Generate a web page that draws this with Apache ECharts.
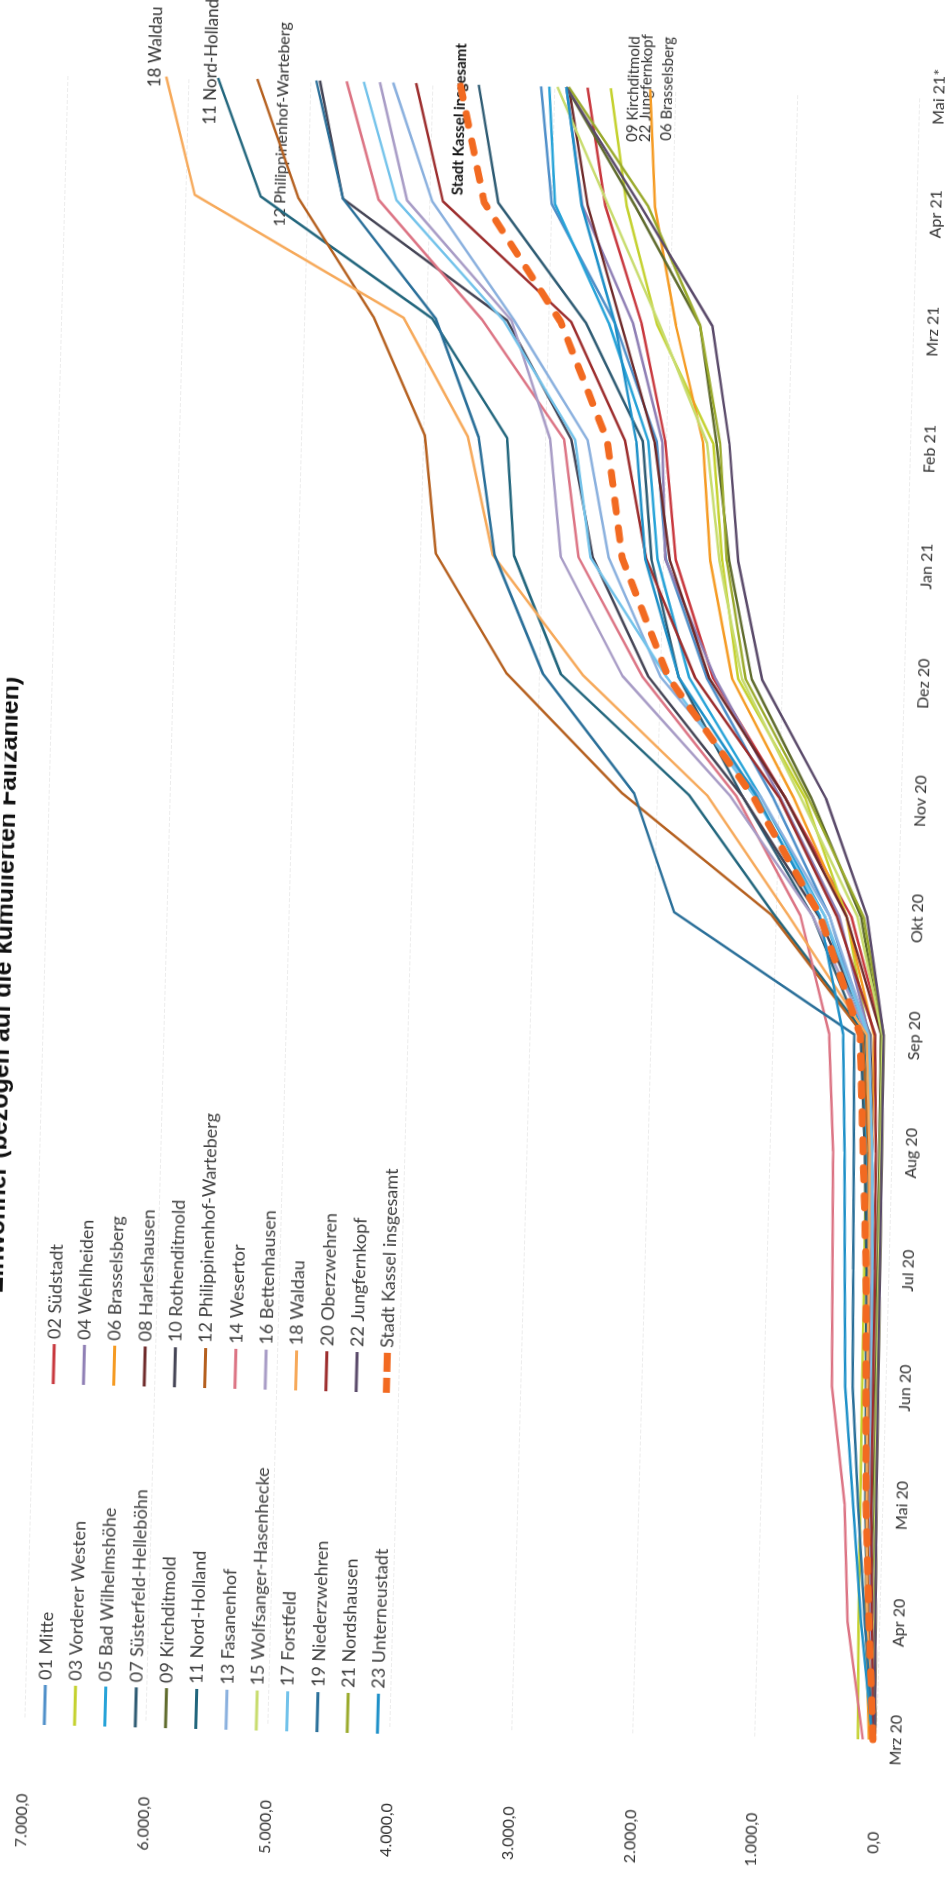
<!DOCTYPE html>
<html><head><meta charset="utf-8">
<script src="https://cdn.jsdelivr.net/npm/echarts/dist/echarts.min.js"></script>
<style>
html,body{margin:0;padding:0;width:952px;height:1878px;overflow:hidden;background:#fff;}
#chart{position:absolute;left:0;top:0;width:1878px;height:952px;transform-origin:0 0;
transform:translate(476px,939px) rotate(1.5deg) translate(-476px,-939px) translate(0,1878px) rotate(-90deg);}
</style></head><body><div id="chart"></div>
<script>
const months = ['Mrz 20','Apr 20','Mai 20','Jun 20','Jul 20','Aug 20','Sep 20','Okt 20','Nov 20','Dez 20','Jan 21','Feb 21','Mrz 21','Apr 21','Mai 21*'];
const valueTicks = [0,1000,2000,3000,4000,5000,6000,7000];

const names = ['01 Mitte','02 Südstadt','03 Vorderer Westen','04 Wehlheiden','05 Bad Wilhelmshöhe','06 Brasselsberg','07 Süsterfeld-Helleböhn','08 Harleshausen','09 Kirchditmold','10 Rothenditmold','11 Nord-Holland','12 Philippinenhof-Warteberg','13 Fasanenhof','14 Wesertor','15 Wolfsanger-Hasenhecke','16 Bettenhausen','17 Forstfeld','18 Waldau','19 Niederzwehren','20 Oberzwehren','21 Nordshausen','22 Jungfernkopf','23 Unterneustadt','Stadt Kassel insgesamt'];

const d01 = [20,70,110,130,150,180,240,560,1050,1620,1980,2080,2450,2994,3107];
const d02 = [10,40,60,70,80,90,100,380,950,1567,1900,2010,2230,2555,2725];
const d03 = [150,170,180,190,200,210,220,420,786,1362,1517,1617,2104,2378,2534];
const d04 = [30,80,110,130,150,170,210,480,990,1550,1986,2035,2300,2745,2900];
const d05 = [40,90,130,150,170,210,260,600,1150,1764,2050,2150,2500,2968,3040];
const d06 = [60,110,130,140,150,160,170,420,880,1411,1616,1700,1950,2147,2210];
const d07 = [40,100,140,160,180,220,280,700,1300,1850,2100,2195,2690,3435,3620];
const d08 = [10,40,60,70,80,90,110,420,950,1600,1950,2100,2400,2700,2880];
const d09 = [20,50,70,80,90,100,110,300,735,1250,1460,1590,1751,2308,2900];
const d10 = [20,60,90,110,130,160,200,650,1300,2100,2581,2783,3336,4711,4925];
const d11 = [25,80,110,130,150,170,240,1015,1740,2818,3229,3311,3952,5386,5762];
const d12 = [30,90,120,140,160,190,260,1040,2289,3268,3872,3986,4434,5079,5440];
const d13 = [20,60,90,110,130,160,210,560,1150,2000,2450,2650,3277,3978,4324];
const d14 = [110,260,310,439,460,480,538,800,1350,2150,2699,2842,3541,4418,4706];
const d15 = [20,40,60,70,80,90,100,330,820,1330,1540,1668,2084,2530,2974];
const d16 = [20,70,100,120,140,170,220,700,1400,2313,2845,2958,3300,4184,4432];
const d17 = [20,60,90,110,130,160,220,600,1200,1950,2600,2752,3365,4271,4565];
const d18 = [30,100,130,150,160,180,230,900,1590,2640,3403,3633,4187,5929,6188];
const d19 = [20,120,200,270,290,311,333,1837,2190,2966,3389,3545,3923,4711,4955];
const d20 = [20,60,90,100,110,130,160,500,1000,1715,2142,2341,2808,3889,4134];
const d21 = [10,30,50,60,70,80,90,280,760,1300,1480,1560,1750,2200,2880];
const d22 = [10,30,50,60,70,80,90,250,614,1165,1386,1484,1650,2262,2900];
const d23 = [30,150,240,330,360,386,423,640,1180,1850,2150,2250,2450,2750,2900];
const dKassel = [26,85,134,160,184,234,284,638,1213,1937,2340,2488,2896,3550,3772];

const seriesData = [d01,d02,d03,d04,d05,d06,d07,d08,d09,d10,d11,d12,d13,d14,d15,d16,d17,d18,d19,d20,d21,d22,d23,dKassel];
const colors = ['#4f8fc9','#c8383e','#c4d12e','#8f7fb5','#27a3d8','#f59b23','#2e5b73','#6e2a2a','#5f6b2d','#444455','#22667d','#b5601f','#8ab0de','#dc7484','#c8dc6e','#a89cc6','#72c2ea','#f6a95a','#2a6f99','#9c2d2d','#9aaa2c','#5a4a6a','#1e90c8','#f26a21'];

const chart = echarts.init(document.getElementById('chart'), null, {renderer:'canvas'});
const FONT = 'Lato, "Open Sans", sans-serif';
const LINE_ICON = 'path://M0,0h40v3h-40z';
const DASH_ICON = 'path://M0,0h15v7h-15z M21,0h19v7h-19z';

const series = names.map((n,i)=>{
  const isTotal = i === names.length-1;
  return {
    name:n, type:'line', data:seriesData[i], symbol:'none', silent:true,
    z: isTotal ? 5 : 2,
    itemStyle:{color:colors[i], borderWidth:0},
    lineStyle: isTotal ? {width:7, color:colors[i], type:[12,16], cap:'round'} : {width:2.5, color:colors[i]}
  };
});

function fmt(v){ return String(Math.round(v)).replace(/\B(?=(\d{3})+(?!\d))/g,'.') + ',0'; }

const legendBase = {orient:'vertical', top:51, itemWidth:40, itemHeight:18, itemGap:12.3, selectedMode:false,
  itemStyle:{borderWidth:0},
  textStyle:{fontSize:18, color:'#404040', fontFamily:FONT, lineHeight:18}};
const legendItem = (n,i)=>({name:n, icon: i===23 ? DASH_ICON : LINE_ICON});

const txt = (t,x,y,font,fill)=>({type:'text', x:x, y:y, silent:true,
  style:{text:t, fill:fill||'#333', font:font, verticalAlign:'middle', align:'left'}});

chart.setOption({
  animation:false,
  backgroundColor:'#ffffff',
  grid:{left:149, right:85, top:45, bottom:55, containLabel:false},
  legend:[
    Object.assign({}, legendBase, {left:137, data:names.map(legendItem).filter((o,i)=>i%2===0 && i<23)}),
    Object.assign({}, legendBase, {left:478, data:names.map(legendItem).filter((o,i)=>i%2===1 || i===23)})
  ],
  xAxis:{type:'category', data:months, boundaryGap:false,
    axisLine:{show:false}, axisTick:{show:false}, splitLine:{show:false},
    axisLabel:{fontSize:16, color:'#333', margin:12, interval:0, fontFamily:FONT}},
  yAxis:{type:'value', min:valueTicks[0], max:valueTicks[valueTicks.length-1], interval:1000,
    axisLine:{show:false}, axisTick:{show:false},
    splitLine:{lineStyle:{color:'#ececec', type:'dashed', width:1}},
    axisLabel:{formatter:fmt, fontSize:16, color:'#333', margin:103, align:'center', fontFamily:FONT}},
  graphic:[
    {type:'text', x:1189, y:18, silent:true, style:{text:'Einwohner (bezogen auf die kumulierten Fallzahlen)', fill:'#111', font:'bold 25px "Liberation Sans", Arial, sans-serif', align:'right', verticalAlign:'bottom'}},
    txt(names[17],1782,133,'17px '+FONT),
    txt(names[10],1746,189,'17px '+FONT),
    txt(names[11],1646,261,'16px '+FONT),
    txt(names[23],1682,438,'bold 15px '+FONT,'#111'),
    txt(names[8],1740,611,'15px '+FONT),
    txt(names[21],1740,624,'15px '+FONT),
    txt(names[5],1742,645,'15px '+FONT)
  ],
  series:series
});
</script></body></html>
